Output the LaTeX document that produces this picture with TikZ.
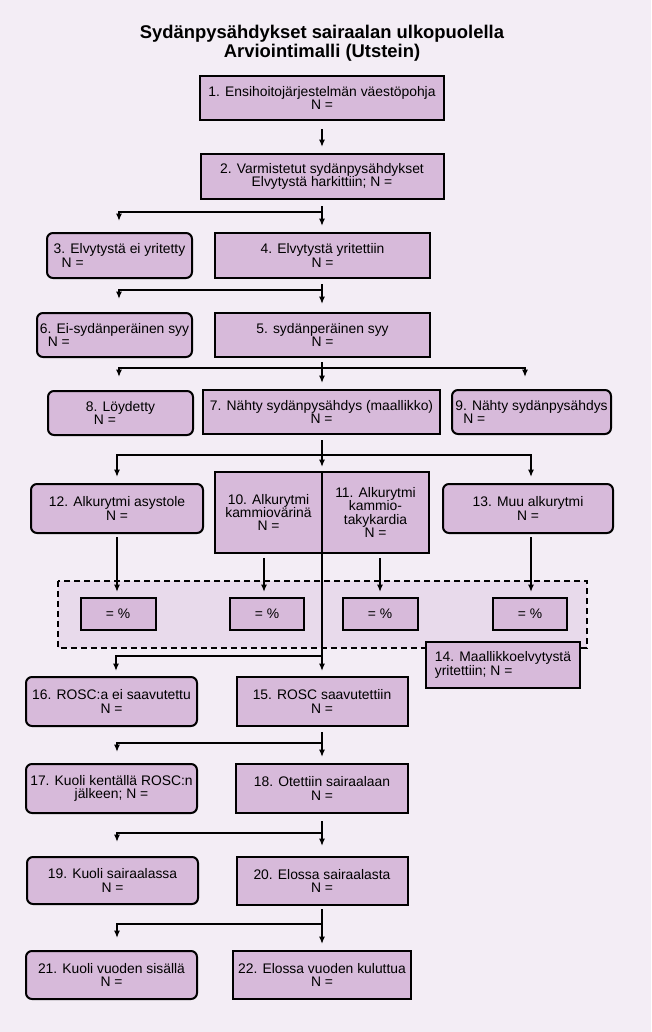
\documentclass[tikz,border=0pt]{standalone}
\usepackage{fontspec}
\setmainfont{Liberation Sans}
\usetikzlibrary{arrows.meta,calc}

\tikzset{%
flowbox/.style={draw, line width=1.5pt, fill={rgb,255:red,215;green,186;blue,218}, inner sep=1pt, align=center, font=\fontsize{10.4}{10.1}\selectfont},%
roundbox/.style={flowbox, rounded corners=4.5pt},%
boxsize/.style 2 args={minimum width=#1*0.75pt, minimum height=#2*0.75pt},%
arr/.style={line width=1.5pt, -{Latex[length=5.5pt,width=4.5pt]}},%
}

\begin{document}
\begin{tikzpicture}[x=0.75pt,y=-0.75pt]%
\fill[fill={rgb,255:red,243;green,237;blue,245}] (0,0) rectangle (651,1032);%
\useasboundingbox (0,0) rectangle (651,1032);%
\node[font=\fontsize{13.8}{14.25}\selectfont\bfseries, align=center] (title) at (322,43.5) {Sydänpysähdykset sairaalan ulkopuolella\\Arviointimalli (Utstein)};%
\fill[fill={rgb,255:red,232;green,218;blue,235}] (58,581) rectangle (587,648);%
\draw[line width=1.5pt, dash pattern=on 4.5pt off 3pt] (58,581) rectangle (587,648);%
\node[flowbox, boxsize={244}{44}] (n1) at (322,98) {1. Ensihoitojärjestelmän väestöpohja\\N =};%
\node[flowbox, boxsize={243}{45}] (n2) at (322,176.5) {2. Varmistetut sydänpysähdykset\\Elvytystä harkittiin; N =};%
\node[roundbox, boxsize={145}{45}, align=left] (n3) at (119.5,255.5) {3. Elvytystä ei yritetty\\\hspace{6pt}N =};%
\node[flowbox, boxsize={215}{45}] (n4) at (322.5,255.5) {4. Elvytystä yritettiin\\N =};%
\node[roundbox, boxsize={155}{44}, align=left] (n6) at (114.5,335) {6. Ei-sydänperäinen syy\\\hspace{6pt}N =};%
\node[flowbox, boxsize={215}{44}] (n5) at (322.5,335) {5. sydänperäinen syy\\N =};%
\node[roundbox, boxsize={145}{44}, align=left] (n8) at (120.5,413) {8. Löydetty\\\hspace{6pt}N =};%
\node[flowbox, boxsize={237}{44}] (n7) at (321.5,412) {7. Nähty sydänpysähdys (maallikko)\\N =};%
\node[roundbox, boxsize={159}{44}, align=left] (n9) at (531.5,412) {9. Nähty sydänpysähdys\\\hspace{6pt}N =};%
\node[roundbox, boxsize={172}{49}] (n12) at (117,508.5) {12. Alkurytmi asystole\\N =};%
\node[flowbox, boxsize={107}{81}] (n10) at (268.5,512.5) {10. Alkurytmi\\kammiovärinä\\N =};%
\node[flowbox, boxsize={107}{81}] (n11) at (375.5,512.5) {11. Alkurytmi\\kammio-\\takykardia\\N =};%
\node[roundbox, boxsize={170}{49}] (n13) at (528,508.5) {13. Muu alkurytmi\\N =};%
\node[flowbox, boxsize={75}{32}] (p1) at (118,614) {= \%};%
\node[flowbox, boxsize={74}{32}] (p2) at (267,614) {= \%};%
\node[flowbox, boxsize={75}{32}] (p3) at (380,614) {= \%};%
\node[flowbox, boxsize={74}{32}] (p4) at (530,614) {= \%};%
\node[flowbox, boxsize={154}{46}, align=left] (n14) at (503,665) {14. Maallikkoelvytystä\\yritettiin; N =};%
\node[roundbox, boxsize={171}{49}] (n16) at (111.5,701.5) {16. ROSC:a ei saavutettu\\N =};%
\node[flowbox, boxsize={171}{49}] (n15) at (322,701.5) {15. ROSC saavutettiin\\N =};%
\node[roundbox, boxsize={171}{49}] (n17) at (111.5,788.5) {17. Kuoli kentällä ROSC:n\\jälkeen; N =};%
\node[flowbox, boxsize={172}{49}] (n18) at (322,788.5) {18. Otettiin sairaalaan\\N =};%
\node[roundbox, boxsize={171}{47}] (n19) at (112.5,880.5) {19. Kuoli sairaalassa\\N =};%
\node[flowbox, boxsize={171}{48}] (n20) at (322,881) {20. Elossa sairaalasta\\N =};%
\node[roundbox, boxsize={171}{48}] (n21) at (111.5,975) {21. Kuoli vuoden sisällä\\N =};%
\node[flowbox, boxsize={178}{48}] (n22) at (322,975) {22. Elossa vuoden kuluttua\\N =};%
\draw[arr] ($(n1.south)+(0,8)$) -- ($(n2.north)+(0,-6)$);%
\draw[arr] ($(n2.south)+(0,6)$) -- ($(n2.south |- n4.north)+(0,-6)$);%
\draw[arr] ($(n2.south)+(0,12)$) -| ($(n3.north)+(-0.5,-11)$);%
\draw[arr] ($(n4.south -| n2.south)+(0,5)$) -- ($(n2.south |- n5.north)+(0,-8)$);%
\draw[arr] ($(n4.south -| n2.south)+(0,11)$) -| ($(n6.north)+(4.5,-13)$);%
\draw[arr] ($(n5.south -| n2.south)+(0,4)$) -- ($(n2.south |- n7.north)+(0,-6)$);%
\draw[arr] ($(n5.south -| n2.south)+(0,10)$) -| ($(n8.north)+(-1.5,-13)$);%
\draw[arr] ($(n5.south -| n2.south)+(0,10)$) -| ($(n9.north)+(-6.5,-12)$);%
\draw[arr] ($(n7.south -| n2.south)+(0,5)$) -- ($(n2.south |- n10.north)+(0,-4)$);%
\draw[arr] ($(n7.south -| n2.south)+(0,20)$) -| ($(n12.north)+(0,-6)$);%
\draw[arr] ($(n7.south -| n2.south)+(0,20)$) -| ($(n13.north)+(3,-6)$);%
\draw[arr] (n15.north |- n10.north) -- ($(n15.north)+(0,-5)$);%
\draw[arr] ($(n15.north)+(0,-20)$) -| ($(n16.north)+(4.5,-5)$);%
\draw[arr] ($(n12.south)+(0,3)$) -- ($(n12.south |- p1.north)+(0,-5)$);%
\draw[arr] ($(n10.south -| p2.north)+(-3,4)$) -- ($(p2.north)+(-3,-5)$);%
\draw[arr] ($(n11.south -| p3.north)+(0,4)$) -- ($(p3.north)+(0,-5)$);%
\draw[arr] ($(n13.south -| p4.north)+(1,3)$) -- ($(p4.north)+(1,-5)$);%
\draw[arr] ($(n15.south)+(0,5)$) -- ($(n18.north -| n15.south)+(0,-6)$);%
\draw[arr] ($(n15.south)+(0,16)$) -| ($(n17.north)+(5.5,-11)$);%
\draw[arr] ($(n18.south -| n15.south)+(0,7)$) -- ($(n20.north -| n15.south)+(0,-10)$);%
\draw[arr] ($(n18.south -| n15.south)+(0,19)$) -| ($(n19.north)+(4.5,-14)$);%
\draw[arr] ($(n20.south -| n15.south)+(0,3)$) -- ($(n22.north -| n15.south)+(0,-6)$);%
\draw[arr] ($(n20.south -| n15.south)+(0,18)$) -| ($(n21.north)+(5.5,-12)$);%
\end{tikzpicture}
\end{document}
